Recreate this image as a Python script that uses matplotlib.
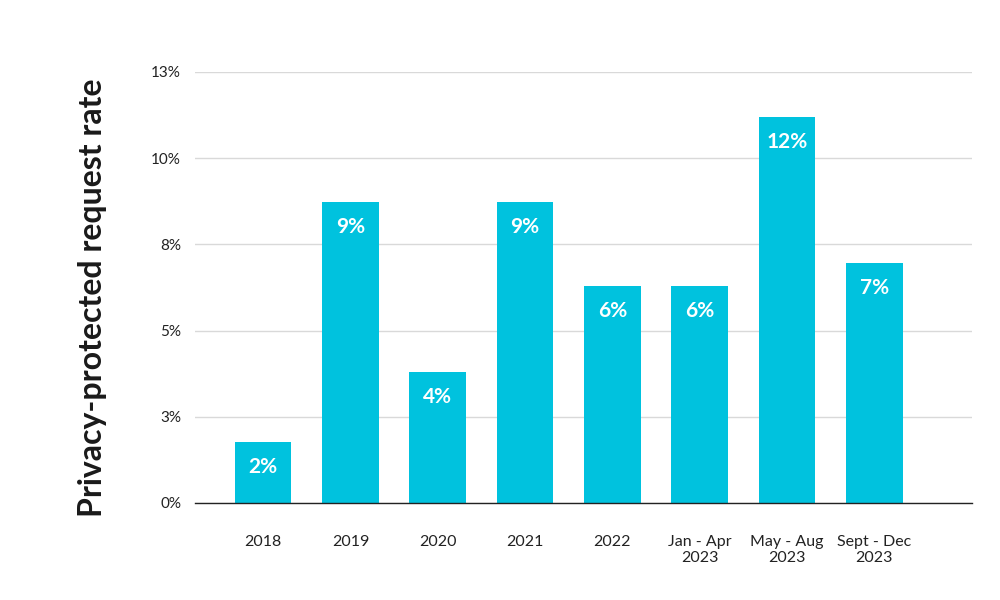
import numpy as np
import matplotlib
matplotlib.use("Agg")
import matplotlib.pyplot as plt

plt.rcParams['font.family'] = ['Lato', 'DejaVu Sans']

periods = ["2018", "2019", "2020", "2021", "2022",
           "Jan - Apr\n2023", "May - Aug\n2023", "Sept - Dec\n2023"]
rates = [1.77, 8.72, 3.80, 8.72, 6.29, 6.29, 11.19, 6.96]
rate_labels = ["2%", "9%", "4%", "9%", "6%", "6%", "12%", "7%"]
yticks = [0, 2.5, 5, 7.5, 10, 12.5]
ytick_labels = ["0%", "3%", "5%", "8%", "10%", "13%"]

fig = plt.figure(figsize=(10, 6), dpi=100)
ax = fig.add_axes([0.195, 0.1617, 0.777, 0.7183])

x = np.arange(len(periods))
bars = ax.bar(x, rates, width=0.65, color="#00C2DE", zorder=2)

for b, lab in zip(bars, rate_labels):
    ax.annotate(lab, (b.get_x() + b.get_width() / 2, b.get_height()),
                xytext=(0, -18), textcoords="offset points",
                ha="center", va="center", color="white",
                fontsize=15, fontweight="bold")

ax.set_ylim(0, 12.5)
ax.set_xlim(-0.78, 8.12)
ax.set_yticks(yticks)
ax.set_yticklabels(ytick_labels, fontsize=11, color="#222222")
ax.set_xticks(x)
ax.set_xticklabels(periods, fontsize=11.5, color="#222222", linespacing=1.2)
ax.tick_params(axis="both", length=0)
ax.tick_params(axis="x", pad=23)
ax.tick_params(axis="y", pad=10)

ax.grid(axis="y", color="#d9d9d9", linewidth=1, zorder=0)
for s in ["top", "right", "left"]:
    ax.spines[s].set_visible(False)
ax.spines["bottom"].set_color("#222222")
ax.spines["bottom"].set_linewidth(1)
ax.spines["bottom"].set_zorder(3)

fig.text(0.093, 0.503, "Privacy-protected request rate", rotation=90,
         ha="center", va="center", fontsize=23, fontweight="bold",
         color="#1a1a1a")

fig.savefig("out.png", dpi=100)
